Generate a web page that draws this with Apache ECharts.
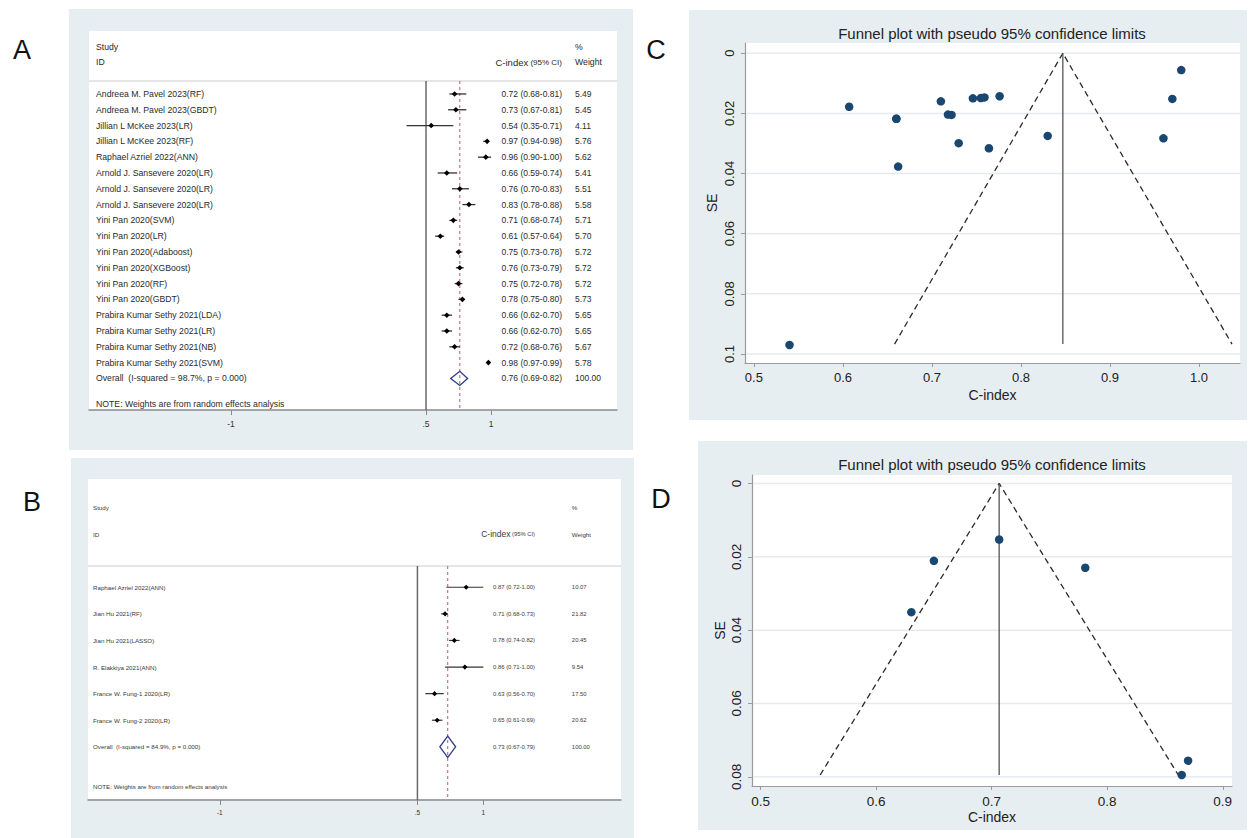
<!DOCTYPE html>
<html><head><meta charset="utf-8">
<script src="https://cdn.jsdelivr.net/npm/echarts@6/dist/echarts.min.js"></script>
<style>html,body{margin:0;padding:0;background:#fff;}#c{width:1250px;height:838px;}</style>
</head><body><div id="c"></div>
<script>
// ---------- Panel A (forest) ----------
const namesA = ['Andreea M. Pavel 2023(RF)','Andreea M. Pavel 2023(GBDT)','Jillian L McKee 2023(LR)','Jillian L McKee 2023(RF)','Raphael Azriel 2022(ANN)','Arnold J. Sansevere 2020(LR)','Arnold J. Sansevere 2020(LR)','Arnold J. Sansevere 2020(LR)','Yini Pan 2020(SVM)','Yini Pan 2020(LR)','Yini Pan 2020(Adaboost)','Yini Pan 2020(XGBoost)','Yini Pan 2020(RF)','Yini Pan 2020(GBDT)','Prabira Kumar Sethy 2021(LDA)','Prabira Kumar Sethy 2021(LR)','Prabira Kumar Sethy 2021(NB)','Prabira Kumar Sethy 2021(SVM)'];
const estA = [0.72,0.73,0.54,0.97,0.96,0.66,0.76,0.83,0.71,0.61,0.75,0.76,0.75,0.78,0.66,0.66,0.72,0.98];
const loA  = [0.68,0.67,0.35,0.94,0.90,0.59,0.70,0.78,0.68,0.57,0.73,0.73,0.72,0.75,0.62,0.62,0.68,0.97];
const hiA  = [0.81,0.81,0.71,0.98,1.00,0.74,0.83,0.88,0.74,0.64,0.78,0.79,0.78,0.80,0.70,0.70,0.76,0.99];
const weightA = ['5.49','5.45','4.11','5.76','5.62','5.41','5.51','5.58','5.71','5.70','5.72','5.72','5.72','5.73','5.65','5.65','5.67','5.78'];
const overallA = [0.76, 0.69, 0.82];
const overallLabelA = 'Overall  (I-squared = 98.7%, p = 0.000)';
const overallWeightA = '100.00';

// ---------- Panel B (forest) ----------
const namesB = ['Raphael Azriel 2022(ANN)','Jian Hu 2021(RF)','Jian Hu 2021(LASSO)','R. Elakkiya 2021(ANN)','France W. Fung-1 2020(LR)','France W. Fung-2 2020(LR)'];
const estB = [0.87,0.71,0.78,0.86,0.63,0.65];
const loB  = [0.72,0.68,0.74,0.71,0.56,0.61];
const hiB  = [1.00,0.73,0.82,1.00,0.70,0.69];
const weightB = ['10.07','21.82','20.45','9.54','17.50','20.62'];
const overallB = [0.73, 0.67, 0.79];
const overallLabelB = 'Overall  (I-squared = 84.9%, p = 0.000)';
const overallWeightB = '100.00';

const noteText = 'NOTE: Weights are from random effects analysis';
const forestTicks = [-1, 0.5, 1];
const nullLine = 0.5;

// ---------- Panel C (funnel) ----------
const cIndexC = [0.540,0.607,0.660,0.660,0.662,0.710,0.718,0.722,0.730,0.746,0.755,0.759,0.764,0.776,0.830,0.960,0.970,0.980];
const seC     = [0.0970,0.0178,0.0218,0.0218,0.0377,0.0160,0.0204,0.0205,0.0299,0.0150,0.0149,0.0147,0.0316,0.0143,0.0275,0.0283,0.0152,0.0056];
const funnelXC = [0.658, 0.847, 1.037];
const funnelYC = [0.0967, 0, 0.0967];
const xTicksC = [0.5,0.6,0.7,0.8,0.9,1.0];
const yTicksC = [0,0.02,0.04,0.06,0.08,0.1];

// ---------- Panel D (funnel) ----------
const cIndexD = [0.6305,0.650,0.7065,0.781,0.8645,0.870];
const seD     = [0.0351,0.0211,0.0153,0.0230,0.0795,0.0756];
const funnelXD = [0.5516, 0.7065, 0.8615];
const funnelYD = [0.0795, 0, 0.0795];
const xTicksD = [0.5,0.6,0.7,0.8,0.9];
const yTicksD = [0,0.02,0.04,0.06,0.08];

const funnelTitle = 'Funnel plot with pseudo 95% confidence limits';

const FONT = '"Liberation Sans", Arial, Helvetica, sans-serif';
const BG = '#e7eef1';
const NAVY = '#1a476f';

function fmtCI(e,l,h){ return e.toFixed(2)+' ('+l.toFixed(2)+'-'+h.toFixed(2)+')'; }

function forestSeries(o){
  const n = o.names.length;
  const data = [[-3,0,0,0]];
  for (let i=0;i<n;i++) data.push([i,o.est[i],o.lo[i],o.hi[i]]);
  data.push([n,o.overall[0],o.overall[1],o.overall[2]]);
  data.push([o.noteRow,0,0,0]);
  return {
    type:'custom', xAxisIndex:o.ax, yAxisIndex:o.ax, clip:false, silent:true, z:3,
    renderItem:function(params, api){
      const idx = params.dataIndex;
      const cs = params.coordSys;
      const row = api.value(0);
      const y = api.coord([0,row])[1];
      const leftX = cs.x + o.leftPad;
      const numX = api.coord([o.numCol,row])[0];
      const wX = api.coord([o.wCol,row])[0];
      const txt = function(t,x,yy,align,size){ return {type:'text', x:x, y:yy, style:{text:t, fontSize:size, fontFamily:FONT, fill:o.color, align:align, verticalAlign:'middle'}}; };
      if (idx === 0){
        const yS = api.coord([0,-3])[1], yI = api.coord([0,-2])[1];
        const xn = api.coord([nullLine,0])[0], xo = api.coord([o.overall[0],0])[0];
        return {type:'group', children:[
          {type:'line', shape:{x1:cs.x,y1:cs.y,x2:cs.x+cs.width,y2:cs.y}, style:{stroke:'#dcdcdc', lineWidth:1.5}},
          {type:'line', shape:{x1:xn,y1:cs.y,x2:xn,y2:cs.y+cs.height}, style:{stroke:'#6a6a6a', lineWidth:1.5}},
          {type:'line', shape:{x1:xo,y1:cs.y,x2:xo,y2:cs.y+cs.height}, style:{stroke:'#c9535c', lineWidth:1, lineDash:[3,3]}},
          txt('Study', leftX, yS, 'left', o.fs),
          txt('ID', leftX, yI, 'left', o.fs),
          txt('%', wX, yS, 'left', o.fs),
          txt('Weight', wX, yI, 'left', o.fs),
          {type:'text', x:numX, y:yI, style:{text:'{a|C-index}{b| (95% CI)}', align:'right', verticalAlign:'middle',
            rich:{a:{fontSize:o.hfs, fontFamily:FONT, fill:o.color}, b:{fontSize:o.cifs, fontFamily:FONT, fill:o.color}}}}
        ]};
      }
      if (idx <= n){
        const i = idx-1;
        const p = api.coord([api.value(1),row]), a = api.coord([api.value(2),row]), b = api.coord([api.value(3),row]);
        const r = o.markerR;
        const px = p[0];
        return {type:'group', children:[
          {type:'line', shape:{x1:a[0],y1:y,x2:b[0],y2:y}, style:{stroke:o.ciColor, lineWidth:o.ciWidth}},
          {type:'polygon', shape:{points:[[px-r,y],[px,y-r],[px+r,y],[px,y+r]]}, style:{fill:'#000'}},
          txt(o.names[i], leftX, y, 'left', o.fs),
          txt(fmtCI(o.est[i],o.lo[i],o.hi[i]), numX, y, 'right', o.nfs),
          txt(o.weights[i], wX, y, 'left', o.nfs)
        ]};
      }
      if (idx === n+1){
        const cx = api.coord([api.value(1),row])[0], ax = api.coord([api.value(2),row])[0], bx = api.coord([api.value(3),row])[0];
        const top = api.coord([api.value(1),row-o.dh])[1], bot = api.coord([api.value(1),row+o.dh])[1];
        return {type:'group', children:[
          {type:'polygon', shape:{points:[[ax,y],[cx,top],[bx,y],[cx,bot]]}, style:{fill:'none', stroke:'#2f3a86', lineWidth:1.3}},
          txt(o.overallLabel, leftX, y, 'left', o.fs),
          txt(fmtCI(o.overall[0],o.overall[1],o.overall[2]), numX, y, 'right', o.nfs),
          txt(o.overallWeight, wX, y, 'left', o.nfs)
        ]};
      }
      return txt(noteText, leftX, y, 'left', o.fs);
    },
    data:data
  };
}

function forestX(gi, min, max, fs){
  return {gridIndex:gi, type:'value', min:min, max:max,
    axisLine:{show:true, onZero:false, lineStyle:{color:'#8a8a8a', width:1.5}},
    axisTick:{show:true, customValues:forestTicks, length:5, lineStyle:{color:'#8a8a8a', width:1}},
    axisLabel:{show:true, customValues:forestTicks, fontSize:fs, fontFamily:FONT, color:'#333', margin:9,
      formatter:function(v){ return String(v).replace(/^0\./,'.'); }},
    splitLine:{show:false}};
}
function forestY(gi, min, max){
  return {gridIndex:gi, type:'value', min:min, max:max, inverse:true, show:false,
    axisLine:{show:false,onZero:false}, splitLine:{show:false}};
}
function funnelX(gi, min, max, ticks, fs, nfs, gap){
  return {gridIndex:gi, type:'value', min:min, max:max, name:'C-index', nameLocation:'middle', nameGap:gap, nameMoveOverlap:false,
    nameTextStyle:{fontSize:nfs, fontFamily:FONT, color:'#222'},
    axisLine:{show:true, onZero:false, lineStyle:{color:'#9a9a9a', width:1.2}},
    axisTick:{show:true, customValues:ticks, length:4, lineStyle:{color:'#9a9a9a'}},
    axisLabel:{show:true, customValues:ticks, fontSize:fs, fontFamily:FONT, color:'#222', margin:8,
      formatter:function(v){ return v.toFixed(1); }},
    splitLine:{show:false}};
}
function funnelY(gi, min, max, ticks, fs, nfs, gap){
  return {gridIndex:gi, type:'value', min:min, max:max, inverse:true, name:'SE', nameLocation:'middle', nameGap:gap, nameMoveOverlap:false,
    nameTextStyle:{fontSize:nfs, fontFamily:FONT, color:'#222'},
    axisLine:{show:true, onZero:false, lineStyle:{color:'#9a9a9a', width:1.2}},
    axisTick:{show:true, customValues:ticks, length:4, lineStyle:{color:'#9a9a9a'}},
    axisLabel:{show:true, customValues:ticks, rotate:90, fontSize:fs, fontFamily:FONT, color:'#222', margin:9,
      formatter:function(v){ return String(+v.toFixed(2)); }},
    splitLine:{show:false}};
}
function funnelSeries(gi, xs, ys, fx, fy, yt){
  const pts = xs.map(function(x,i){ return [x, ys[i]]; });
  return [
    {type:'custom', xAxisIndex:gi, yAxisIndex:gi, silent:true, z:1, clip:false,
      data: yt.map(function(v){ return [v]; }),
      renderItem:function(params, api){
        const cs = params.coordSys;
        const yy = api.coord([0, api.value(0)])[1];
        return {type:'line', shape:{x1:cs.x+1, y1:yy, x2:cs.x+cs.width, y2:yy}, style:{stroke:'#e4ecef', lineWidth:1.5}};
      }},
    {type:'line', xAxisIndex:gi, yAxisIndex:gi, data:fx.map(function(x,i){ return [x, fy[i]]; }), symbol:'none', silent:true, z:2,
      lineStyle:{color:'#2a2a2a', width:1.3, type:[6,4]}},
    {type:'line', xAxisIndex:gi, yAxisIndex:gi, data:[[fx[1], fy[1]], [fx[1], fy[0]]], symbol:'none', silent:true, z:2,
      lineStyle:{color:'#555', width:1.3}},
    {type:'scatter', xAxisIndex:gi, yAxisIndex:gi, data:pts, symbolSize:8.5, silent:true, z:5,
      itemStyle:{color:NAVY, opacity:1}}
  ];
}

const chart = echarts.init(document.getElementById('c'), null, {renderer:'svg', width:1250, height:838});
const letter = function(t,x,y){ return {type:'text', x:x, y:y, z:10, style:{text:t, fontSize:27, fontFamily:FONT, fill:'#111', align:'center', verticalAlign:'middle'}}; };
const option = {
  animation:false,
  backgroundColor:'#ffffff',
  title:[
    {text:funnelTitle, left:992, top:26, textAlign:'center', padding:0, textStyle:{fontSize:15, fontWeight:'normal', fontFamily:FONT, color:'#222'}},
    {text:funnelTitle, left:992, top:457, textAlign:'center', padding:0, textStyle:{fontSize:15, fontWeight:'normal', fontFamily:FONT, color:'#222'}}
  ],
  graphic:[
    {type:'rect', z:-10, shape:{x:69,y:9,width:564,height:441}, style:{fill:BG}},
    {type:'rect', z:-9, shape:{x:89,y:31,width:528,height:379}, style:{fill:'#fff'}},
    {type:'rect', z:-10, shape:{x:71,y:458,width:563,height:380}, style:{fill:BG}},
    {type:'rect', z:-9, shape:{x:88,y:479,width:533,height:320}, style:{fill:'#fff'}},
    {type:'rect', z:-10, shape:{x:689,y:10,width:558,height:410}, style:{fill:BG}},
    {type:'rect', z:-10, shape:{x:698,y:441,width:549,height:389}, style:{fill:BG}},
    letter('A',22,50), letter('B',32,502), letter('C',656,50), letter('D',661,499)
  ],
  grid:[
    {left:89, top:81, width:528, height:329, outerBoundsMode:'none', containLabel:false},
    {left:88, top:566, width:533, height:234, outerBoundsMode:'none', containLabel:false},
    {left:745, top:43, width:495, height:320, outerBoundsMode:'none', containLabel:false, show:true, backgroundColor:'#fff', borderWidth:0},
    {left:752, top:475, width:480, height:311, outerBoundsMode:'none', containLabel:false, show:true, backgroundColor:'#fff', borderWidth:0}
  ],
  xAxis:[
    forestX(0, -2.092, 1.969, 8.5),
    forestX(1, -2.0, 2.045, 6.5),
    funnelX(2, 0.49, 1.046, xTicksC, 13, 14, 25),
    funnelX(3, 0.4926, 0.908, xTicksD, 13.5, 14, 24)
  ],
  yAxis:[
    forestY(0, -0.82, 20),
    forestY(1, -0.8, 8),
    funnelY(2, -0.0034, 0.103, yTicksC, 13, 14, 26),
    funnelY(3, -0.0023, 0.0825, yTicksD, 13.5, 14, 25)
  ],
  series:[
    forestSeries({ax:0, names:namesA, est:estA, lo:loA, hi:hiA, weights:weightA, overall:overallA, overallLabel:overallLabelA, overallWeight:overallWeightA,
      noteRow:19.6, leftPad:7, numCol:1.546, wCol:1.646, fs:8.7, nfs:8.5, hfs:9.5, cifs:8, color:'#2a2a2a', markerR:2.8, dh:0.45, ciColor:'#333', ciWidth:1.3}),
    forestSeries({ax:1, names:namesB, est:estB, lo:loB, hi:hiB, weights:weightB, overall:overallB, overallLabel:overallLabelB, overallWeight:overallWeightB,
      noteRow:7.49, leftPad:5, numCol:1.392, wCol:1.672, fs:6.2, nfs:5.9, hfs:8.5, cifs:5.8, color:'#3a3a3a', markerR:2.6, dh:0.4, ciColor:'#333', ciWidth:1.2})
  ].concat(funnelSeries(2, cIndexC, seC, funnelXC, funnelYC, yTicksC))
   .concat(funnelSeries(3, cIndexD, seD, funnelXD, funnelYD, yTicksD))
};
chart.setOption(option);
</script>
</body></html>
